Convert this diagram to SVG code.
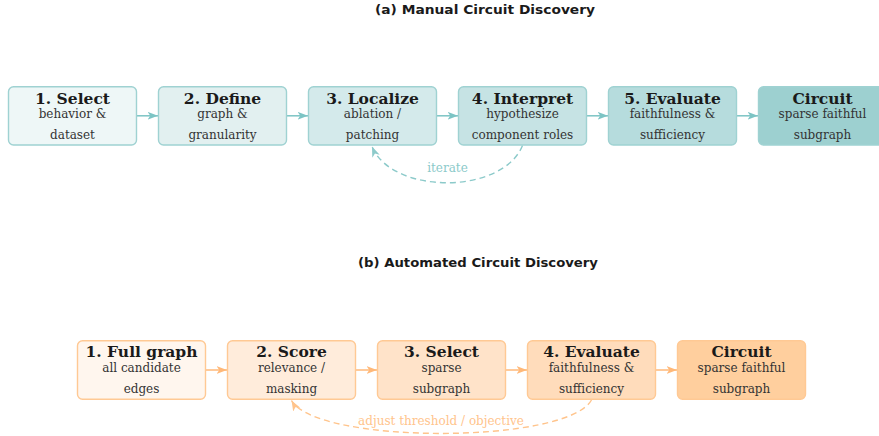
<svg xmlns="http://www.w3.org/2000/svg" width="879" height="436" viewBox="0 0 879 436">
<defs>
<style>
.sec{font-family:"DejaVu Sans","Liberation Sans",sans-serif;font-weight:bold;font-size:12.5px;fill:#1a1a1a;text-anchor:middle}
.nt{font-family:"DejaVu Serif","Liberation Serif",serif;font-weight:bold;font-size:15.5px;fill:#1a1a1a;text-anchor:middle}
.ns{font-family:"DejaVu Serif","Liberation Serif",serif;font-size:12px;fill:#333;text-anchor:middle}
.tb{stroke:#9fd2d2;stroke-width:1.4}
.ob{stroke:#ffc994;stroke-width:1.4}
.ta{stroke:#7cc4c4;stroke-width:1.5;fill:none}
.oa{stroke:#ffb878;stroke-width:1.5;fill:none}
.td{stroke:#8ccaca;stroke-width:1.4;fill:none;stroke-dasharray:6 4}
.od{stroke:#ffc48c;stroke-width:1.4;fill:none;stroke-dasharray:6 4}
.lt{font-family:"DejaVu Serif","Liberation Serif",serif;font-size:12px;fill:#8ccaca;text-anchor:middle}
.lo{font-family:"DejaVu Serif","Liberation Serif",serif;font-size:12px;fill:#ffc48c;text-anchor:middle}
</style>
<marker id="mt" markerUnits="userSpaceOnUse" markerWidth="11" markerHeight="9" refX="10.5" refY="4.5" orient="auto">
<path d="M0,0.5 L10.5,4.5 L0,8.5 L2.8,4.5 z" fill="#7cc4c4"/>
</marker>
<marker id="mo" markerUnits="userSpaceOnUse" markerWidth="11" markerHeight="9" refX="10.5" refY="4.5" orient="auto">
<path d="M0,0.5 L10.5,4.5 L0,8.5 L2.8,4.5 z" fill="#ffb878"/>
</marker>
<marker id="mtd" markerUnits="userSpaceOnUse" markerWidth="11" markerHeight="9" refX="10.5" refY="4.5" orient="auto">
<path d="M0,0.5 L10.5,4.5 L0,8.5 L2.8,4.5 z" fill="#8ccaca"/>
</marker>
<marker id="mod" markerUnits="userSpaceOnUse" markerWidth="11" markerHeight="9" refX="10.5" refY="4.5" orient="auto">
<path d="M0,0.5 L10.5,4.5 L0,8.5 L2.8,4.5 z" fill="#ffc48c"/>
</marker>
</defs>
<rect width="879" height="436" fill="#ffffff"/>

<text class="sec" x="485" y="13.5" textLength="220" lengthAdjust="spacingAndGlyphs">(a) Manual Circuit Discovery</text>
<text class="sec" x="478" y="266.5" textLength="240" lengthAdjust="spacingAndGlyphs">(b) Automated Circuit Discovery</text>

<g id="connectors">
<line class="ta" x1="137" y1="115.8" x2="158" y2="115.8" marker-end="url(#mt)"/>
<line class="ta" x1="287" y1="115.8" x2="308" y2="115.8" marker-end="url(#mt)"/>
<line class="ta" x1="437" y1="115.8" x2="458" y2="115.8" marker-end="url(#mt)"/>
<line class="ta" x1="587" y1="115.8" x2="608" y2="115.8" marker-end="url(#mt)"/>
<line class="ta" x1="737" y1="115.8" x2="758" y2="115.8" marker-end="url(#mt)"/>
<path class="td" d="M522.5,145.5 C502.5,195 392,195 372,146.5" marker-end="url(#mtd)"/>
<text class="lt" x="447.5" y="172">iterate</text>

<line class="oa" x1="206" y1="370" x2="227" y2="370" marker-end="url(#mo)"/>
<line class="oa" x1="356" y1="370" x2="377" y2="370" marker-end="url(#mo)"/>
<line class="oa" x1="506" y1="370" x2="527" y2="370" marker-end="url(#mo)"/>
<line class="oa" x1="656" y1="370" x2="677" y2="370" marker-end="url(#mo)"/>
<path class="od" d="M591.5,400 C566.5,444.5 316.5,444.5 291.5,400.5" marker-end="url(#mod)"/>
<text class="lo" x="441" y="425">adjust threshold / objective</text>
</g>

<g id="a1">
<rect class="tb" x="8.5" y="86.7" width="128" height="58.3" rx="5" fill="#eef7f7"/>
<text class="nt" x="72.5" y="103.5">1. Select</text>
<text class="ns" x="72.5" y="118">behavior &amp;</text>
<text class="ns" x="72.5" y="138.5">dataset</text>
</g>
<g id="a2">
<rect class="tb" x="158.5" y="86.7" width="128" height="58.3" rx="5" fill="#e2f0f0"/>
<text class="nt" x="222.5" y="103.5">2. Define</text>
<text class="ns" x="222.5" y="118">graph &amp;</text>
<text class="ns" x="222.5" y="138.5">granularity</text>
</g>
<g id="a3">
<rect class="tb" x="308.5" y="86.7" width="128" height="58.3" rx="5" fill="#d4eaeb"/>
<text class="nt" x="372.5" y="103.5">3. Localize</text>
<text class="ns" x="372.5" y="118">ablation /</text>
<text class="ns" x="372.5" y="138.5">patching</text>
</g>
<g id="a4">
<rect class="tb" x="458.5" y="86.7" width="128" height="58.3" rx="5" fill="#c6e3e4"/>
<text class="nt" x="522.5" y="103.5">4. Interpret</text>
<text class="ns" x="522.5" y="118">hypothesize</text>
<text class="ns" x="522.5" y="138.5">component roles</text>
</g>
<g id="a5">
<rect class="tb" x="608.5" y="86.7" width="128" height="58.3" rx="5" fill="#b6dcdd"/>
<text class="nt" x="672.5" y="103.5">5. Evaluate</text>
<text class="ns" x="672.5" y="118">faithfulness &amp;</text>
<text class="ns" x="672.5" y="138.5">sufficiency</text>
</g>
<g id="a6">
<rect class="tb" x="758.5" y="86.7" width="128" height="58.3" rx="5" fill="#9dd0d0" stroke="#8cc8c8"/>
<text class="nt" x="822.5" y="103.5">Circuit</text>
<text class="ns" x="822.5" y="118">sparse faithful</text>
<text class="ns" x="822.5" y="138.5">subgraph</text>
</g>

<g id="b1">
<rect class="ob" x="77.5" y="340.7" width="128" height="58.6" rx="5" fill="#fff6ee"/>
<text class="nt" x="141.5" y="357.3">1. Full graph</text>
<text class="ns" x="141.5" y="371.8">all candidate</text>
<text class="ns" x="141.5" y="392.5">edges</text>
</g>
<g id="b2">
<rect class="ob" x="227.5" y="340.7" width="128" height="58.6" rx="5" fill="#ffecdb"/>
<text class="nt" x="291.5" y="357.3">2. Score</text>
<text class="ns" x="291.5" y="371.8">relevance /</text>
<text class="ns" x="291.5" y="392.5">masking</text>
</g>
<g id="b3">
<rect class="ob" x="377.5" y="340.7" width="128" height="58.6" rx="5" fill="#ffe3c9"/>
<text class="nt" x="441.5" y="357.3">3. Select</text>
<text class="ns" x="441.5" y="371.8">sparse</text>
<text class="ns" x="441.5" y="392.5">subgraph</text>
</g>
<g id="b4">
<rect class="ob" x="527.5" y="340.7" width="128" height="58.6" rx="5" fill="#ffdcbb"/>
<text class="nt" x="591.5" y="357.3">4. Evaluate</text>
<text class="ns" x="591.5" y="371.8">faithfulness &amp;</text>
<text class="ns" x="591.5" y="392.5">sufficiency</text>
</g>
<g id="b5">
<rect class="ob" x="677.5" y="340.7" width="128" height="58.6" rx="5" fill="#ffcf9e" stroke="#ffbf80"/>
<text class="nt" x="741.5" y="357.3">Circuit</text>
<text class="ns" x="741.5" y="371.8">sparse faithful</text>
<text class="ns" x="741.5" y="392.5">subgraph</text>
</g>
</svg>
